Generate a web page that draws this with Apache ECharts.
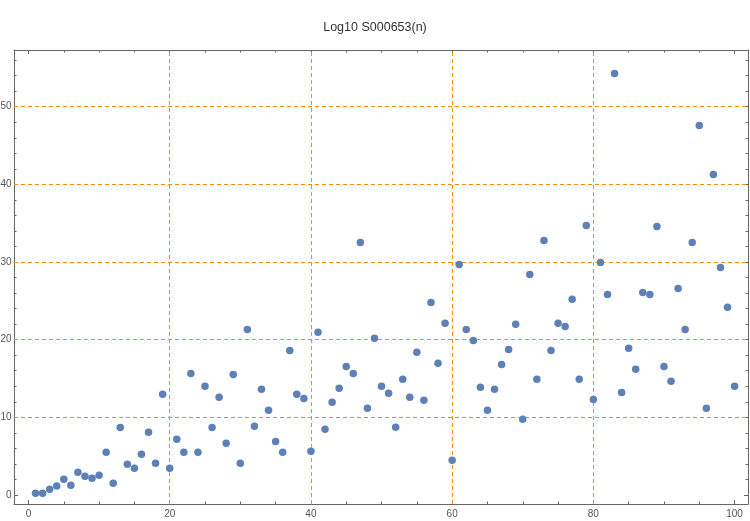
<!DOCTYPE html>
<html><head><meta charset="utf-8">
<script src="https://cdn.jsdelivr.net/npm/echarts@6/dist/echarts.min.js"></script>
<style>html,body{margin:0;padding:0;background:#fff}#c{width:750px;height:521px}</style>
</head><body><div id="c"></div>
<script>
const titleText = 'Log10 S000653(n)';
const nValues = [1,2,3,4,5,6,7,8,9,10,11,12,13,14,15,16,17,18,19,20,21,22,23,24,25,26,27,28,29,30,31,32,33,34,35,36,37,38,39,40,41,42,43,44,45,46,47,48,49,50,51,52,53,54,55,56,57,58,59,60,61,62,63,64,65,66,67,68,69,70,71,72,73,74,75,76,77,78,79,80,81,82,83,84,85,86,87,88,89,90,91,92,93,94,95,96,97,98,99,100];
const logValues = [0.22,0.22,0.73,1.16,2.02,1.25,2.92,2.4,2.15,2.53,
  5.5,1.5,8.7,3.95,3.43,5.24,8.07,4.08,12.96,3.43,
  7.17,5.5,15.66,5.5,13.99,8.7,12.57,6.65,15.53,4.08,
  21.3,8.84,13.6,10.9,6.9,5.5,18.6,12.96,12.44,5.62,
  20.94,8.45,11.93,13.73,16.56,15.66,32.52,11.16,20.17,13.99,
  13.09,8.71,14.89,12.57,18.37,12.19,24.8,16.95,22.1,4.47,
  29.69,21.3,19.9,13.86,10.9,13.6,16.8,18.75,21.97,9.74,
  28.4,14.89,32.78,18.6,22.1,21.7,25.2,14.89,34.7,12.3,
  29.95,25.83,54.27,13.2,18.88,16.18,26.09,25.83,34.58,16.56,
  14.63,26.6,21.3,32.52,47.58,11.16,41.27,29.3,24.16,13.99];
const xMajor = [0,20,40,60,80,100];
const xMinor = [5,10,15,25,30,35,45,50,55,65,70,75,85,90,95];
const yMajor = [0,10,20,30,40,50];
const yMinor = [2,4,6,8,12,14,16,18,22,24,26,28,32,34,36,38,42,44,46,48,52,54,56];
const xGridLines = [20,40,60,80];
const yGridLines = [10,20,30,40,50];

const X_MIN = -2.05, X_MAX = 101.9, Y_MIN = -1.16, Y_MAX = 57.3;
const frameColor = '#666666';
const labelColor = '#555555';
const gridColor = '#ff8c00';
const FONT = 'Liberation Sans, Arial, sans-serif';

function xAx(pos, ticks, len, labels, showLine) {
  return {
    type: 'value', position: pos, min: X_MIN, max: X_MAX,
    axisLine: {show: showLine, onZero: false, lineStyle: {color: frameColor, width: 1}},
    axisTick: {show: true, inside: true, length: len, customValues: ticks, lineStyle: {color: frameColor}},
    axisLabel: labels ? {show: true, customValues: ticks, color: labelColor, fontSize: 10, fontFamily: FONT, margin: 5} : {show: false},
    splitLine: {show: false}
  };
}
function yAx(pos, ticks, len, labels, showLine) {
  return {
    type: 'value', position: pos, min: Y_MIN, max: Y_MAX,
    axisLine: {show: showLine, onZero: false, lineStyle: {color: frameColor, width: 1}},
    axisTick: {show: true, inside: true, length: len, customValues: ticks, lineStyle: {color: frameColor}},
    axisLabel: labels ? {show: true, customValues: ticks, color: labelColor, fontSize: 10, fontFamily: FONT, margin: 2.5} : {show: false},
    splitLine: {show: false}
  };
}

const chart = echarts.init(document.getElementById('c'), null, {renderer: 'canvas'});
const pts = nValues.map((n, i) => [n, logValues[i]]);
const markData = xGridLines.map(v => ({xAxis: v})).concat(yGridLines.map(v => ({yAxis: v})));

chart.setOption({
  animation: false,
  backgroundColor: '#ffffff',
  title: {text: titleText, left: 'center', top: 16, textStyle: {fontSize: 12.5, fontWeight: 'normal', color: '#333333', fontFamily: FONT}},
  grid: {left: 14, right: 2, top: 50, bottom: 17, containLabel: false, outerBoundsMode: 'none'},
  xAxis: [
    xAx('bottom', xMajor, 4, true, true),
    xAx('bottom', xMinor, 2.5, false, false),
    xAx('top', xMajor, 4, false, true),
    xAx('top', xMinor, 2.5, false, false)
  ],
  yAxis: [
    yAx('left', yMajor, 4, true, true),
    yAx('left', yMinor, 2.5, false, false),
    yAx('right', yMajor, 4, false, true),
    yAx('right', yMinor, 2.5, false, false)
  ],
  series: [{
    type: 'scatter', xAxisIndex: 0, yAxisIndex: 0,
    data: pts, symbolSize: 7.5,
    itemStyle: {color: '#5e81b5', opacity: 1},
    z: 5,
    markLine: {
      silent: true, symbol: ['none', 'none'], label: {show: false},
      lineStyle: {color: gridColor, type: [4, 3], width: 1},
      emphasis: {disabled: true},
      data: markData,
      z: 1
    }
  }]
});
</script></body></html>
